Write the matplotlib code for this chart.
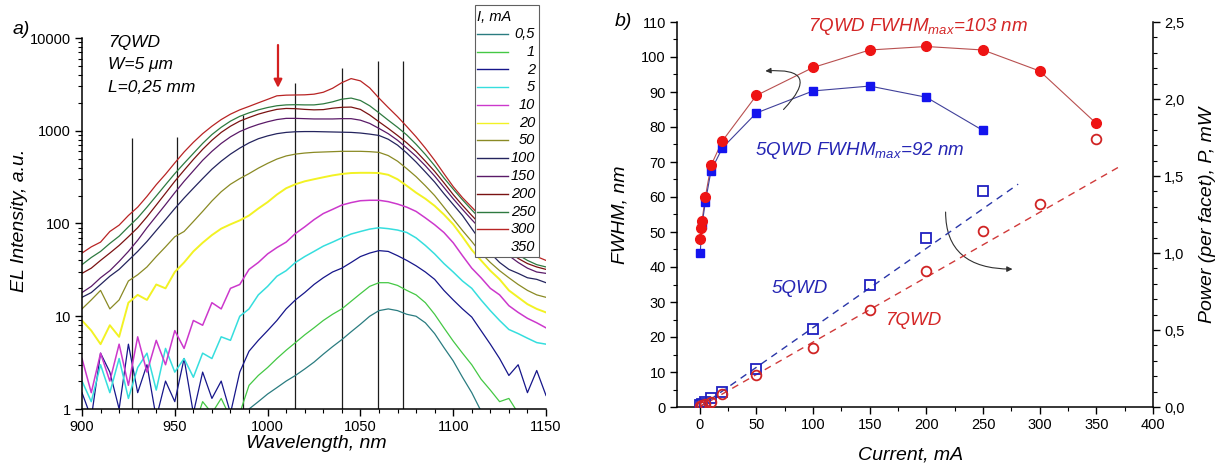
import numpy as np
import matplotlib
matplotlib.use('Agg')
import matplotlib.pyplot as plt
from matplotlib.lines import Line2D
from matplotlib.patches import Rectangle, FancyArrowPatch
from matplotlib.ticker import MultipleLocator, LogLocator, NullFormatter, FixedLocator

plt.rcParams['font.family'] = ['Liberation Sans', 'DejaVu Sans']
plt.rcParams['mathtext.fontset'] = 'custom'
plt.rcParams['mathtext.it'] = 'Liberation Sans:italic'
plt.rcParams['mathtext.rm'] = 'Liberation Sans:italic'

# ---------------- data: panel a) EL spectra ----------------
wavelength = np.arange(900, 1151, 5)

spec_0_5 = [0.5, 0.5, 0.5, 0.5, 0.5, 0.5, 0.5, 0.5, 0.5, 0.5, 0.5, 0.5, 0.5, 0.5, 0.5, 0.5, 0.5, 0.5,
            1.0, 1.2, 1.45, 1.7, 2.0, 2.3, 2.7, 3.2, 3.9, 4.7, 5.6, 6.8, 8.2, 10, 11.5, 12, 11.5, 10.5,
            10, 8.5, 6.5, 4.6, 3.3, 2.2, 1.5, 0.95, 0.5, 0.5, 0.5, 0.5, 0.5, 0.5, 0.5]
spec_1 = [0.5, 0.5, 0.5, 0.5, 0.5, 0.5, 0.5, 0.5, 0.5, 0.5, 0.5, 0.5,
          0.6, 1.2, 0.9, 1.3, 0.8, 0.9, 1.8, 2.3, 2.8, 3.5, 4.3, 5.2, 6.3, 7.5, 9, 10.5, 12, 14.5,
          17.5, 21, 23, 23, 21.5, 19, 17, 14, 10.5, 7.5, 5.4, 4, 3, 2.1, 1.6, 1.2, 1.3, 0.9, 0.5, 0.5, 0.5]
spec_2 = [1.5, 0.8, 4, 2.5, 1, 5, 1.5, 3, 0.8, 2, 1.2, 3.5, 0.9, 2.5, 1.3, 2, 0.9, 2.5, 4.2, 5.5,
          7, 9, 12, 15, 18, 22, 26, 30, 33, 38, 44, 48, 51, 50, 45, 40, 35, 30, 25, 19,
          15, 12, 9.8, 7, 5, 3.5, 2.3, 3, 1.5, 2.6, 1.4]
spec_5 = [2, 1.2, 3, 1.5, 3.5, 1.3, 2.8, 4, 1.6, 4.5, 2.5, 3.5, 2.2, 4, 3.5, 6, 5.5, 10, 12, 17,
          21, 27, 31, 38, 44, 50, 57, 63, 70, 77, 82, 87, 90, 88, 85, 80, 70, 58, 47, 37,
          30, 24, 20, 15, 11.5, 9, 7.2, 6.5, 5.8, 5.2, 5]
spec_10 = [3.5, 1.5, 4, 2, 5, 1.8, 6, 2.5, 5.5, 3, 7, 4.5, 9, 8, 14, 12, 20, 22, 32, 38,
           47, 55, 63, 78, 92, 110, 128, 142, 158, 168, 176, 178, 178, 172, 162, 150, 135, 115, 97, 80,
           62, 45, 33, 26, 20, 17, 13, 11, 9.5, 8.5, 7.5]
spec_20 = [9, 7, 5, 8, 6, 14, 17, 15, 22, 20, 30, 38, 50, 62, 75, 88, 98, 108, 122, 145,
           170, 205, 240, 265, 285, 300, 315, 330, 342, 350, 352, 352, 350, 335, 300, 255, 215, 185, 155, 125,
           98, 72, 52, 40, 31, 25, 19, 16, 13.5, 12, 11]
spec_50 = [12, 15, 19, 12, 15, 24, 28, 34, 44, 56, 72, 82, 105, 135, 175, 220, 265, 305, 345, 395,
           445, 495, 535, 560, 575, 585, 590, 595, 600, 600, 600, 595, 585, 540, 470, 390, 320, 255, 200, 150,
           112, 84, 64, 48, 38, 31, 26, 22, 19, 17, 16]
spec_100 = [16, 18, 22, 27, 32, 40, 50, 64, 84, 110, 145, 188, 240, 305, 385, 470, 560, 650, 740, 820,
            880, 930, 960, 975, 980, 980, 975, 970, 965, 960, 945, 920, 890, 810, 700, 575, 460, 360, 280, 210,
            160, 122, 88, 64, 48, 38, 32, 29, 26, 25, 23]
spec_150 = [18, 21, 26, 31, 39, 50, 66, 90, 120, 160, 215, 285, 370, 480, 600, 730, 860, 980, 1080, 1170,
            1250, 1320, 1360, 1360, 1350, 1340, 1340, 1340, 1350, 1350, 1300, 1200, 1060, 930, 790, 650, 530, 420, 325, 245,
            185, 142, 110, 86, 68, 55, 45, 38, 33, 30, 29]
spec_200 = [29, 33, 40, 48, 58, 72, 90, 118, 158, 212, 285, 375, 490, 630, 790, 960, 1120, 1270, 1390, 1510,
            1610, 1700, 1740, 1730, 1700, 1680, 1690, 1750, 1790, 1800, 1700, 1480, 1250, 1060, 890, 740, 600, 470, 365, 275,
            205, 157, 122, 96, 77, 62, 50, 42, 37, 34, 32]
spec_250 = [36, 43, 50, 61, 73, 92, 115, 150, 198, 262, 345, 445, 570, 730, 910, 1090, 1270, 1430, 1560, 1680,
            1780, 1860, 1900, 1910, 1900, 1900, 1950, 2050, 2190, 2250, 2120, 1860, 1560, 1300, 1090, 900, 715, 555, 420, 310,
            235, 180, 140, 110, 88, 70, 55, 46, 40, 36, 34]
spec_300 = [48, 56, 63, 82, 96, 122, 150, 196, 262, 340, 450, 590, 750, 930, 1120, 1320, 1510, 1680, 1830, 2000,
            2180, 2380, 2420, 2430, 2440, 2480, 2600, 2870, 3300, 3650, 3450, 2900, 2250, 1780, 1420, 1110, 860, 650, 480, 345,
            250, 190, 150, 118, 95, 78, 62, 53, 46, 44, 40]

spectra = [spec_0_5, spec_1, spec_2, spec_5, spec_10, spec_20, spec_50,
           spec_100, spec_150, spec_200, spec_250, spec_300]
current_labels = ['0,5', '1', '2', '5', '10', '20', '50', '100', '150', '200', '250', '300', '350']
curve_colors = ['#2a7c80', '#44c844', '#16168a', '#36dede', '#cc38cc', '#f2f224', '#8a8a24',
                '#24245e', '#5a1a68', '#7a1212', '#2e7a40', '#b82424', 'none']
curve_widths = [0.9, 0.9, 0.9, 1.1, 1.1, 1.4, 0.9, 0.9, 0.9, 0.9, 0.9, 0.9]

# spectrometer artefact lines (wavelength, top intensity)
artefact_wl = [927, 951, 987, 1015, 1040, 1059.5, 1073]
artefact_top = [830, 850, 1480, 3280, 4700, 5600, 5600]

wl_ticks = [900, 950, 1000, 1050, 1100, 1150]
int_ticks = [1, 10, 100, 1000, 10000]

# ---------------- data: panel b) FWHM and power ----------------
cur_7qwd = [0.5, 1, 2, 5, 10, 20, 50, 100, 150, 200, 250, 300, 350]
fwhm_7qwd = [48, 51, 53, 60, 69, 76, 89, 97, 102, 103, 102, 96, 81]
cur_5qwd = [0.5, 2, 5, 10, 20, 50, 100, 150, 200, 250]
fwhm_5qwd = [44, 52, 58.5, 67.5, 74, 84, 90.3, 91.7, 88.5, 79]

pcur_5qwd = [0.5, 2, 5, 10, 20, 50, 100, 150, 200, 250]
power_5qwd = [0.01, 0.02, 0.035, 0.057, 0.10, 0.245, 0.505, 0.79, 1.10, 1.40]
pcur_7qwd = [0.5, 2, 5, 10, 20, 50, 100, 150, 200, 250, 300, 350]
power_7qwd = [0.005, 0.012, 0.02, 0.035, 0.085, 0.205, 0.38, 0.63, 0.885, 1.145, 1.32, 1.74]

fit_cur_5qwd = [0, 281]
fit_pow_5qwd = [0, 1.447]
fit_cur_7qwd = [0, 370]
fit_pow_7qwd = [0, 1.559]

cur_ticks = [0, 50, 100, 150, 200, 250, 300, 350, 400]
fwhm_ticks = [0, 10, 20, 30, 40, 50, 60, 70, 80, 90, 100, 110]
pow_ticks = [0.0, 0.5, 1.0, 1.5, 2.0, 2.5]
pow_tick_labels = ['0,0', '0,5', '1,0', '1,5', '2,0', '2,5']

# ---------------- figure ----------------
W, H = 1227, 473
fig = plt.figure(figsize=(W / 100, H / 100), dpi=100)
fig.patch.set_facecolor('white')


def fx(px):
    return px / W


def fy(py):
    return 1 - py / H


TICK = 10.5
LAB = 14

# ---- panel a ----
axl = fig.add_axes([fx(82), fy(409), fx(546) - fx(82), fy(38) - fy(409)])
axl.set_yscale('log')
axl.set_xlim(900, 1150)
axl.set_ylim(1, 10000)
axl.vlines(artefact_wl, 1, artefact_top, colors='#1c1c1c', lw=0.9, zorder=1)
for spec, col, lw in zip(spectra, curve_colors, curve_widths):
    axl.plot(wavelength, spec, color=col, lw=lw, zorder=2)

axl.set_xticks(wl_ticks)
axl.set_xticklabels([str(t) for t in wl_ticks])
axl.xaxis.set_minor_locator(MultipleLocator(10))
axl.set_yticks(int_ticks)
axl.set_yticklabels([str(t) for t in int_ticks])
axl.yaxis.set_minor_locator(LogLocator(base=10, subs=np.arange(2, 10)))
axl.yaxis.set_minor_formatter(NullFormatter())
for s in ['top', 'right']:
    axl.spines[s].set_visible(False)
for s in ['left', 'bottom']:
    axl.spines[s].set_linewidth(1.1)
axl.tick_params(which='major', direction='out', length=5, width=1.0, labelsize=TICK, pad=3)
axl.tick_params(which='minor', direction='out', length=3, width=0.8)

axl.annotate('', xy=(1005.6, 2900), xytext=(1005.6, 8400),
             arrowprops=dict(arrowstyle='-|>', color='#d42020', lw=1.6, mutation_scale=12,
                             shrinkA=0, shrinkB=0))

for txt, py in [('7QWD', 43), ('W=5 \u03bcm', 65), ('L=0,25 mm', 87)]:
    fig.text(fx(108), fy(py), txt, fontsize=12.5, style='italic', ha='left', va='center')

fig.text(fx(13), fy(30), 'a)', fontsize=14, style='italic', ha='left', va='center')
fig.text(fx(316), fy(443), 'Wavelength, nm', fontsize=LAB, style='italic', ha='center', va='center')
fig.text(fx(20), fy(220), 'EL Intensity, a.u.', fontsize=LAB, style='italic', ha='center', va='center',
         rotation=90)

# legend (manual, right-aligned labels)
fig.add_artist(Rectangle((fx(475), fy(257)), fx(539) - fx(475), fy(5) - fy(257),
                         transform=fig.transFigure, fc='white', ec='#606060', lw=0.8, zorder=5))
fig.text(fx(477), fy(17), 'I, mA', fontsize=10.5, style='italic', ha='left', va='center', zorder=6)
for i, (lab, col) in enumerate(zip(current_labels, curve_colors)):
    py = 34 + i * 17.75
    fig.add_artist(Line2D([fx(477), fx(508)], [fy(py), fy(py)], color=col, lw=1.0,
                          transform=fig.transFigure, zorder=6))
    fig.text(fx(535), fy(py), lab, fontsize=10.5, style='italic', ha='right', va='center', zorder=6)

# ---- panel b ----
axr = fig.add_axes([fx(677), fy(407), fx(1153) - fx(677), fy(22) - fy(407)])
axr.set_xlim(-20, 400)
axr.set_ylim(0, 110)
axp = axr.twinx()
axp.set_ylim(0, 2.5)

axr.plot(cur_7qwd, fwhm_7qwd, '-', color='#b85050', lw=0.8, zorder=3)
axr.plot(cur_5qwd, fwhm_5qwd, '-', color='#40409a', lw=0.8, zorder=3)
axr.plot(cur_5qwd, fwhm_5qwd, 's', color='#1414ee', ms=6, mec='#1414ee', zorder=4)
axr.plot(cur_7qwd, fwhm_7qwd, 'o', color='#ee1414', ms=7, mec='#ee1414', zorder=5)

axp.plot(fit_cur_5qwd, fit_pow_5qwd, '--', color='#2a36a8', lw=1.0, dashes=(5, 4), zorder=3)
axp.plot(fit_cur_7qwd, fit_pow_7qwd, '--', color='#d03a3a', lw=1.0, dashes=(5, 4), zorder=3)
axp.plot(pcur_5qwd, power_5qwd, 's', mfc='none', mec='#2020c0', ms=6.5, mew=1.3, zorder=4)
axp.plot(pcur_7qwd, power_7qwd, 'o', mfc='none', mec='#d02424', ms=7, mew=1.3, zorder=4)

axr.set_xticks(cur_ticks)
axr.set_xticklabels([str(t) for t in cur_ticks])
axr.xaxis.set_minor_locator(FixedLocator([25, 75, 125, 175, 225, 275, 325, 375]))
axr.set_yticks(fwhm_ticks)
axr.set_yticklabels([str(t) for t in fwhm_ticks])
axr.yaxis.set_minor_locator(MultipleLocator(5))
axp.set_yticks(pow_ticks)
axp.set_yticklabels(pow_tick_labels)
axp.yaxis.set_minor_locator(MultipleLocator(0.1))

for a in (axr, axp):
    a.spines['top'].set_visible(False)
    for s in ['left', 'bottom', 'right']:
        a.spines[s].set_linewidth(1.1)
axr.spines['right'].set_visible(False)
axp.spines['left'].set_visible(False)
axp.spines['bottom'].set_visible(False)
for a in (axr, axp):
    a.tick_params(which='major', direction='out', length=5, width=1.0, labelsize=TICK, pad=3)
    a.tick_params(which='minor', direction='out', length=3, width=0.8)

# curved arrows
arr1 = FancyArrowPatch((74, 85), (58, 96), connectionstyle='arc3,rad=1.28',
                       arrowstyle='-|>', mutation_scale=8, lw=0.8, color='#303030',
                       shrinkA=0, shrinkB=0, transform=axr.transData, zorder=6)
axr.add_patch(arr1)
arr2 = FancyArrowPatch((217, 55.7), (276, 39.4), connectionstyle='angle3,angleA=90,angleB=0',
                       arrowstyle='-|>', mutation_scale=8, lw=0.8, color='#303030',
                       shrinkA=0, shrinkB=0, transform=axr.transData, zorder=6)
axr.add_patch(arr2)

red_txt = '#d42626'
blue_txt = '#2626b4'
fig.text(fx(808), fy(31), r'7QWD FWHM$_{max}$=103 nm', color=red_txt, fontsize=13.5,
         style='italic', ha='left', va='baseline')
fig.text(fx(755), fy(155), r'5QWD FWHM$_{max}$=92 nm', color=blue_txt, fontsize=13.5,
         style='italic', ha='left', va='baseline')
fig.text(fx(772), fy(293), '5QWD', color=blue_txt, fontsize=13.5, style='italic', ha='left', va='baseline')
fig.text(fx(885), fy(325), '7QWD', color=red_txt, fontsize=13.5, style='italic', ha='left', va='baseline')

fig.text(fx(615), fy(22), 'b)', fontsize=14, style='italic', ha='left', va='center')
fig.text(fx(911), fy(455), 'Current, mA', fontsize=LAB, style='italic', ha='center', va='center')
fig.text(fx(620), fy(215), 'FWHM, nm', fontsize=LAB, style='italic', ha='center', va='center', rotation=90)
fig.text(fx(1207), fy(215), 'Power (per facet), P, mW', fontsize=LAB, style='italic', ha='center',
         va='center', rotation=90)

fig.savefig('out.png', dpi=100, facecolor='white')
